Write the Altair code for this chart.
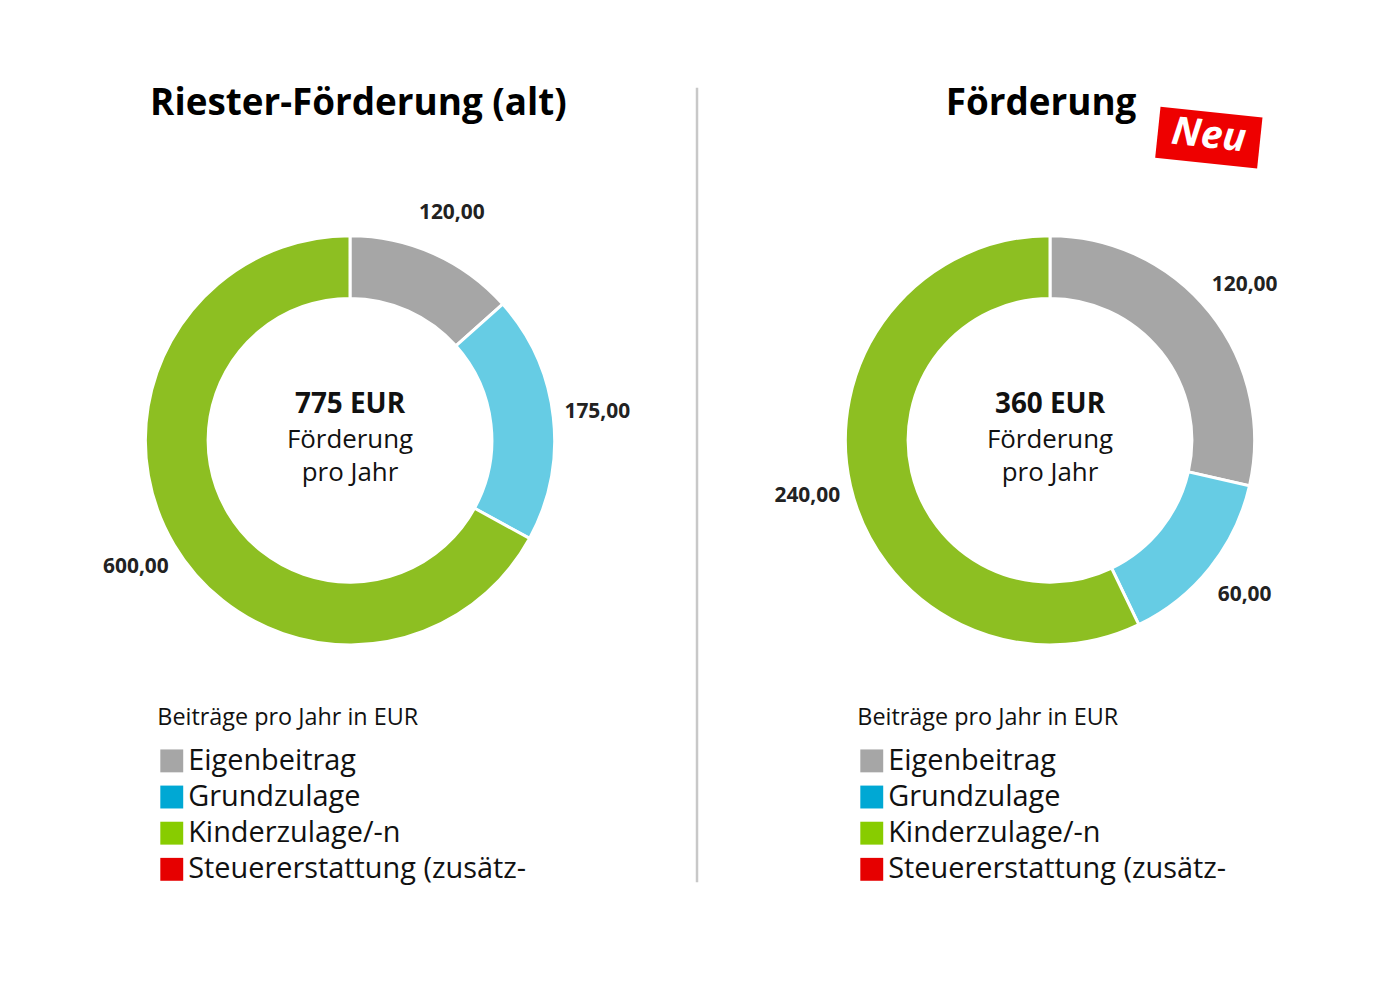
import altair as alt
import pandas as pd

# Categories and colours
kategorien = ["Eigenbeitrag", "Grundzulage", "Kinderzulage/-n", "Steuererstattung (zusätz-"]
segment_farben = ["#a6a6a6", "#66cce4", "#8dbf22"]
legende_farben = ["#a6a6a6", "#00a8d4", "#88cc00", "#e60000"]

# Annual amounts per chart
werte_alt = [120, 175, 600]
werte_neu = [120, 60, 240]

titel = ["Riester-Förderung (alt)", "Förderung"]
summen = ["775 EUR", "360 EUR"]
mitte_text = ["Förderung", "pro Jahr"]
legenden_titel = "Beiträge pro Jahr in EUR"
badge_text = "Neu"

FONT = "Open Sans"
W, H = 700, 1000
CX, CY = 348.5, 437


def fmt(v):
    return f"{v:.2f}".replace(".", ",")


def panel(title, title_x, werte, summe, with_rule=False, with_badge=False):
    df = pd.DataFrame({
        "kategorie": kategorien[:len(werte)],
        "wert": werte,
        "nr": list(range(len(werte))),
        "label": [fmt(v) for v in werte],
    })
    base = alt.Chart(df).encode(
        theta=alt.Theta("wert:Q", stack=True),
        order=alt.Order("nr:Q"),
    )
    ring = base.mark_arc(outerRadius=205.5, innerRadius=142.5, stroke="white", strokeWidth=3).encode(
        fill=alt.Fill("kategorie:N",
                      scale=alt.Scale(domain=kategorien[:3], range=segment_farben),
                      legend=None),
        x=alt.value(CX), y=alt.value(CY),
    )
    labels = base.mark_text(radius=250, font=FONT, fontSize=21, fontWeight="bold",
                            color="#222222").encode(
        text="label:N", x=alt.value(CX), y=alt.value(CY),
    )

    tdf = pd.DataFrame({"t": [title], "s": [summe]})
    head = alt.Chart(tdf).mark_text(font=FONT, fontSize=37, fontWeight="bold",
                                    color="#000000", baseline="middle").encode(
        text="t:N", x=alt.value(title_x), y=alt.value(99))
    summe_mark = alt.Chart(tdf).mark_text(font=FONT, fontSize=28, fontWeight="bold",
                                          color="#111111", baseline="middle").encode(
        text="s:N", x=alt.value(CX), y=alt.value(402))
    zeilen = alt.Chart(pd.DataFrame({"t": [mitte_text]})).mark_text(
        font=FONT, fontSize=26, color="#111111", baseline="middle", lineHeight=33).encode(
        text="t:N", x=alt.value(CX), y=alt.value(437))

    ldf = pd.DataFrame({"kategorie": kategorien})
    legende = alt.Chart(ldf).mark_square(opacity=0).encode(
        color=alt.Color("kategorie:N",
                        scale=alt.Scale(domain=kategorien, range=legende_farben),
                        sort=kategorien,
                        legend=alt.Legend(
                            title=legenden_titel, orient="none", legendX=155, legendY=704,
                            padding=0, symbolType="square", symbolSize=529,
                            symbolOpacity=1, symbolStrokeWidth=0, labelFont=FONT,
                            labelFontSize=29, labelColor="#111111", labelOffset=2,
                            titleFont=FONT, titleFontSize=23.5, titleFontWeight="normal",
                            titleColor="#111111", titlePadding=17, rowPadding=6.3,
                            labelLimit=600, titleLimit=600)),
        x=alt.value(0), y=alt.value(0),
    )

    layers = [ring, labels, head, summe_mark, zeilen, legende]
    if with_rule:
        layers.append(alt.Chart(tdf).mark_rule(color="#c8c8c8", strokeWidth=2.5).encode(
            x=alt.value(697), y=alt.value(83), y2=alt.value(881)))
    if with_badge:
        bdf = pd.DataFrame({"t": [badge_text]})
        layers.append(alt.Chart(bdf).mark_point(
            shape="M -1 -0.5 L 1 -0.5 L 1 0.5 L -1 0.5 Z", size=10600, angle=6,
            filled=True, color="#ee0000", opacity=1, strokeWidth=0).encode(
            x=alt.value(508), y=alt.value(133)))
        layers.append(alt.Chart(bdf).mark_text(
            font=FONT, fontSize=39, fontWeight="bold", fontStyle="italic", color="white",
            angle=6, baseline="middle").encode(
            text="t:N", x=alt.value(508), y=alt.value(131)))

    return alt.layer(*layers).properties(width=W, height=H)


left = panel(titel[0], 357, werte_alt, summen[0], with_rule=True)
right = panel(titel[1], 339.5, werte_neu, summen[1], with_badge=True)

chart = alt.hconcat(left, right, spacing=0).resolve_scale(
    color="independent", fill="independent", theta="independent"
).resolve_legend(color="independent").properties(
    padding=0, background="white"
).configure_view(stroke=None)

chart.save("out.html", embed_options={"renderer": "svg", "actions": False})
